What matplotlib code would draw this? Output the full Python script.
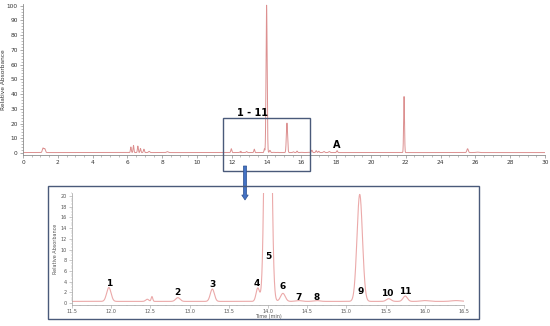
import numpy as np
import matplotlib
matplotlib.use("Agg")
import matplotlib.pyplot as plt
from matplotlib.patches import Rectangle, FancyArrow
from matplotlib.ticker import MultipleLocator, FormatStrFormatter

# ---- data: peak table (time min, rel. absorbance, width sigma) ----
peak_times = [1.15, 1.25, 6.2, 6.35, 6.6, 6.75, 6.95, 7.25, 8.3, 11.97, 12.46, 12.52, 12.85,
              13.29, 13.87, 14.0, 14.19, 14.39, 14.62, 15.17, 15.54, 15.75, 16.0, 16.4,
              16.6, 16.85, 17.0, 17.3, 17.6, 18.05, 21.9, 25.55, 26.1]
peak_heights = [3.0, 2.6, 3.8, 4.8, 4.4, 2.8, 2.3, 0.8, 0.6, 2.6, 0.4, 0.9, 0.7,
                2.3, 2.5, 100.0, 1.5, 0.15, 0.15, 20.0, 0.5, 1.0, 0.15, 0.15,
                1.6, 1.3, 0.9, 0.7, 0.7, 1.3, 38.0, 2.6, 0.3]
peak_sigmas = [0.04, 0.04, 0.025, 0.025, 0.025, 0.025, 0.03, 0.04, 0.05, 0.028, 0.02, 0.01, 0.028,
               0.026, 0.022, 0.032, 0.03, 0.04, 0.04, 0.035, 0.03, 0.028, 0.05, 0.06,
               0.03, 0.03, 0.03, 0.04, 0.04, 0.03, 0.025, 0.04, 0.08]
baseline_level = 0.3

inset_labels = ["1", "2", "3", "4", "5", "6", "7", "8", "9", "10", "11"]
inset_label_x = [11.97, 12.85, 13.29, 13.86, 14.0, 14.19, 14.39, 14.62, 15.18, 15.52, 15.75]
inset_label_y = [3.7, 1.9, 3.4, 3.7, 8.6, 3.0, 1.0, 1.0, 2.1, 1.7, 2.2]

main_x_ticks = list(range(0, 31, 2))
main_y_ticks = list(range(0, 101, 10))
inset_x_ticks = [11.5, 12.0, 12.5, 13.0, 13.5, 14.0, 14.5, 15.0, 15.5, 16.0, 16.5]
inset_y_ticks = list(range(0, 21, 2))


def trace(t):
    y = np.full_like(t, baseline_level)
    for c, h, s in zip(peak_times, peak_heights, peak_sigmas):
        y += h * np.exp(-0.5 * ((t - c) / s) ** 2)
    return y


plt.rcParams['font.family'] = ['DejaVu Sans']
fig = plt.figure(figsize=(5.5, 3.26), dpi=100)

W, H = 550.0, 326.0
line_col = "#DC9090"
axis_col = "#8C8C8C"
box_col = "#4A5A7A"

# ---- main chromatogram ----
ax = fig.add_axes([23 / W, 1 - 155 / H, (545 - 23) / W, (155 - 4.2) / H])
t = np.arange(0, 30.0001, 0.002)
ax.plot(t, trace(t), color=line_col, lw=0.7)
ax.set_xlim(0, 30)
ax.set_ylim(-1.36, 101)
ax.set_xticks(main_x_ticks)
ax.set_yticks(main_y_ticks)
ax.xaxis.set_minor_locator(MultipleLocator(0.5))
ax.yaxis.set_minor_locator(MultipleLocator(2))
for s in ["top", "right"]:
    ax.spines[s].set_visible(False)
for s in ["left", "bottom"]:
    ax.spines[s].set_color(axis_col)
    ax.spines[s].set_linewidth(0.6)
ax.tick_params(which="major", length=2.5, width=0.5, color=axis_col, labelsize=4.2, pad=1.2,
               labelcolor="#333333")
ax.tick_params(which="minor", length=1.3, width=0.4, color=axis_col)
ax.set_ylabel("Relative Absorbance", fontsize=4.2, color="#333333")
ax.yaxis.set_label_coords(-16.5 / (545 - 23), 0.5)
ax.text(13.2, 27, "1 - 11", fontsize=7, fontweight="bold", ha="center", va="center")
ax.text(18.05, 5.6, "A", fontsize=7, fontweight="bold", ha="center", va="center")

# zoom rectangle in main chart (figure coords)
fig.patches.append(Rectangle((223 / W, 1 - 171 / H), (310 - 223) / W, (171 - 118) / H,
                             transform=fig.transFigure, fill=False, edgecolor=box_col, lw=1.0))
# arrow
fig.patches.append(FancyArrow(245 / W, 1 - 166 / H, 0, -(203 - 169) / H,
                              width=3.2 / W, head_width=6.5 / W, head_length=5 / H,
                              length_includes_head=True, transform=fig.transFigure,
                              facecolor="#4472C4", edgecolor="#2F528F", lw=0.5))
# inset frame
fig.patches.append(Rectangle((48 / W, 1 - 319 / H), (479 - 48) / W, (319 - 186) / H,
                             transform=fig.transFigure, fill=False, edgecolor=box_col, lw=1.0))

# ---- inset ----
ax2 = fig.add_axes([72 / W, 1 - 304.6 / H, (464 - 72) / W, (304.6 - 192.8) / H])
t2 = np.arange(11.5, 16.5001, 0.001)
ax2.plot(t2, trace(t2), color="#EBA9A9", lw=0.8)
ax2.set_xlim(11.5, 16.5)
ax2.set_ylim(-0.3, 20.6)
ax2.set_xticks(inset_x_ticks)
ax2.set_yticks(inset_y_ticks)
ax2.xaxis.set_major_formatter(FormatStrFormatter("%.1f"))
ax2.xaxis.set_minor_locator(MultipleLocator(0.1))
ax2.yaxis.set_minor_locator(MultipleLocator(0.5))
for s in ["top", "right"]:
    ax2.spines[s].set_visible(False)
for s in ["left", "bottom"]:
    ax2.spines[s].set_color("#A0A0A0")
    ax2.spines[s].set_linewidth(0.5)
ax2.tick_params(which="major", length=2, width=0.4, color="#A0A0A0", labelsize=3.5, pad=1.5,
                labelcolor="#555555")
ax2.tick_params(which="minor", length=1, width=0.3, color="#A0A0A0")
ax2.set_ylabel("Relative Absorbance", fontsize=3.5, labelpad=2, color="#555555")
ax2.text(14.0, -2.6, "Time (min)", fontsize=3.5, ha="center", va="center", color="#555555")
for lab, lx, ly in zip(inset_labels, inset_label_x, inset_label_y):
    ax2.text(lx, ly, lab, fontsize=6.5, fontweight="bold", ha="center", va="center")

fig.savefig("out.png", dpi=100)
